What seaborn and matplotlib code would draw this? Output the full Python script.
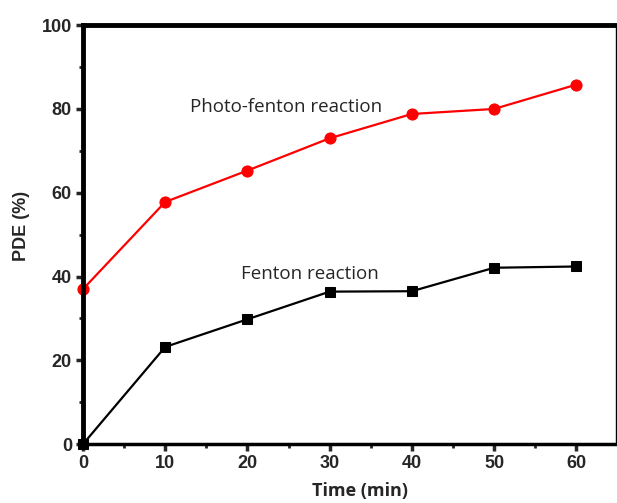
import pandas as pd
import seaborn as sns
import matplotlib.pyplot as plt

# Data
time_min = [0, 10, 20, 30, 40, 50, 60]
photo_fenton = [37.0, 57.8, 65.3, 73.0, 78.8, 80.0, 85.8]
fenton = [0.0, 23.2, 29.8, 36.4, 36.5, 42.1, 42.4]

df = pd.DataFrame({'Time': time_min, 'Photo': photo_fenton, 'Fenton': fenton})

sns.set_style('ticks')
plt.rcParams['font.family'] = ['Liberation Sans', 'DejaVu Sans']

fig = plt.figure(figsize=(6.17, 5.03), dpi=100)
ax = fig.add_axes([0.1345, 0.117, 0.8635, 0.833])

sns.lineplot(data=df, x='Time', y='Photo', ax=ax, color='#ff0000', marker='o',
             markersize=8, markeredgecolor='#ff0000', linewidth=1.6, clip_on=False)
sns.lineplot(data=df, x='Time', y='Fenton', ax=ax, color='black', marker='s',
             markersize=7, markeredgecolor='black', linewidth=1.6, clip_on=False)

ax.set_xlim(0, 64.8)
ax.set_ylim(0, 100)
ax.set_xticks(range(0, 61, 10))
ax.set_xticks(range(5, 61, 10), minor=True)
ax.set_yticks(range(0, 101, 20))
ax.set_yticks(range(10, 100, 20), minor=True)

for side in ['left', 'top']:
    ax.spines[side].set_linewidth(3.5)
ax.spines['bottom'].set_linewidth(2.5)
ax.spines['right'].set_linewidth(1.0)
for s in ax.spines.values():
    s.set_color('black')

ax.tick_params(axis='both', which='major', direction='out', length=5, width=2.5,
               pad=3, labelsize=13)
ax.tick_params(axis='both', which='minor', direction='out', length=3, width=2)
for lbl in ax.get_xticklabels() + ax.get_yticklabels():
    lbl.set_fontweight('bold')

ax.set_xlabel('Time (min)', fontfamily='Open Sans', fontweight='bold', fontsize=13)
ax.set_ylabel('PDE (%)', fontweight='bold', fontsize=13)
ax.xaxis.set_label_coords(0.52, -0.09)
ax.yaxis.set_label_coords(-0.10, 0.52)

ax.text(13, 80.5, 'Photo-fenton reaction', fontfamily='Open Sans', fontsize=13.5,
        va='center', ha='left')
ax.text(19.2, 40.5, 'Fenton reaction', fontfamily='Open Sans', fontsize=13.5,
        va='center', ha='left')

fig.savefig('out.png', dpi=100)
